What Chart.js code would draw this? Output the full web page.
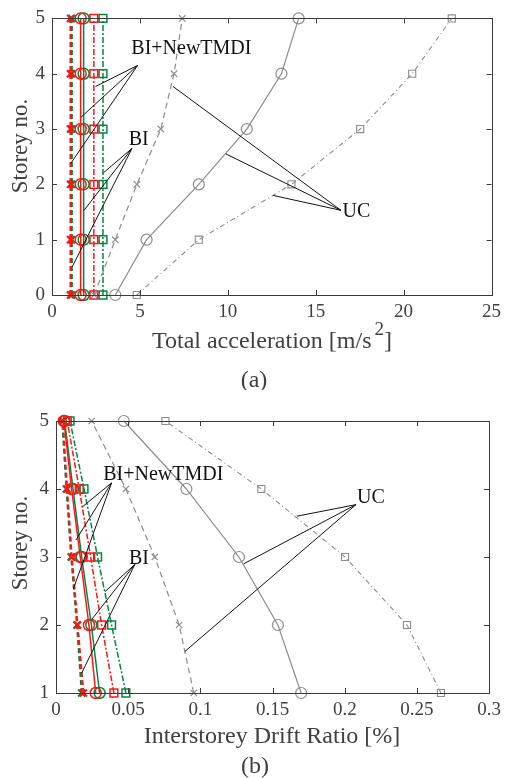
<!DOCTYPE html>
<html><head><meta charset="utf-8">
<script src="https://cdn.jsdelivr.net/npm/chart.js@4"></script>
<style>
body{margin:0;background:#fff;width:507px;height:778px;overflow:hidden;position:relative}
canvas{position:absolute;left:0}
#ca{top:0}
#cb{top:390px}
</style></head><body>
<canvas id="ca" width="507" height="390"></canvas>
<canvas id="cb" width="507" height="388"></canvas>
<script>
// ---------- categories / ticks ----------
const storeysA = [0, 1, 2, 3, 4, 5];
const storeysB = [1, 2, 3, 4, 5];
const accTicks = [0, 5, 10, 15, 20, 25];
const accStoreyTicks = [0, 1, 2, 3, 4, 5];
const driftTicks = [0, 0.05, 0.1, 0.15, 0.2, 0.25, 0.3];
const driftStoreyTicks = [1, 2, 3, 4, 5];

// ---------- (a) total acceleration [m/s^2], storeys 0..5 ----------
const acc_UC_x   = [2.40, 3.60, 4.83, 6.19, 6.94, 7.41];
const acc_UC_o   = [3.60, 5.38, 8.35, 11.08, 13.05, 14.03];
const acc_UC_s   = [4.82, 8.35, 13.62, 17.53, 20.49, 22.74];
const acc_BI_x   = [1.05, 1.05, 1.05, 1.05, 1.05, 1.05];
const acc_BI_o   = [1.63, 1.63, 1.63, 1.63, 1.63, 1.63];
const acc_BI_s   = [2.38, 2.38, 2.38, 2.38, 2.38, 2.38];
const acc_TM_x   = [1.13, 1.13, 1.13, 1.13, 1.13, 1.13];
const acc_TM_o   = [1.80, 1.80, 1.80, 1.80, 1.80, 1.80];
const acc_TM_s   = [2.90, 2.90, 2.90, 2.90, 2.90, 2.90];

// ---------- (b) interstorey drift ratio [%], storeys 1..5 ----------
const dr_UC_x = [0.0954, 0.0853, 0.0684, 0.0484, 0.0247];
const dr_UC_o = [0.1698, 0.1537, 0.1267, 0.0903, 0.0470];
const dr_UC_s = [0.2666, 0.2431, 0.2002, 0.1422, 0.0758];
const dr_BI_x = [0.0190, 0.0150, 0.0110, 0.0077, 0.0048];
const dr_BI_o = [0.0275, 0.0228, 0.0168, 0.0108, 0.0055];
const dr_BI_s = [0.0401, 0.0316, 0.0240, 0.0161, 0.0078];
const dr_TM_x = [0.0178, 0.0145, 0.0105, 0.0072, 0.0043];
const dr_TM_o = [0.0302, 0.0245, 0.0178, 0.0118, 0.0060];
const dr_TM_s = [0.0484, 0.0385, 0.0288, 0.0194, 0.0097];

// ---------- styling ----------
const SERIF = '"Liberation Serif", "Times New Roman", serif';
const GREY = 'rgb(140,140,140)';
const RED = 'rgb(255,20,20)';
const GREEN = 'rgb(0,135,65)';
const AXC = '#3a3a3a';

function ser(xs, ys, color, style, dash, width, r) {
  return {
    data: xs.map((v, i) => ({ x: v, y: ys[i] })),
    borderColor: color, backgroundColor: 'rgba(0,0,0,0)',
    pointStyle: style, pointRadius: r, pointHoverRadius: r,
    pointBorderColor: color, pointBackgroundColor: 'rgba(0,0,0,0)',
    pointBorderWidth: width, borderDash: dash, borderWidth: width,
    showLine: true, clip: false, tension: 0
  };
}

function sets(ys, ux, uo, us, bx, bo, bs, tx, to, ts) {
  return [
    ser(ux, ys, GREY, 'crossRot', [6, 4], 1.2, 4.5),
    ser(uo, ys, GREY, 'circle', [], 1.2, 5.5),
    ser(us, ys, GREY, 'rect', [5, 3, 1, 3], 1.1, 5),
    ser(bx, ys, RED, 'crossRot', [5, 3], 2, 5),
    ser(bo, ys, RED, 'circle', [], 1.5, 5.5),
    ser(bs, ys, RED, 'rect', [6, 2, 2, 2], 1.5, 5.5),
    ser(tx, ys, GREEN, 'crossRot', [5, 3], 2, 5),
    ser(to, ys, GREEN, 'circle', [], 1.5, 5.5),
    ser(ts, ys, GREEN, 'rect', [6, 2, 2, 2], 1.5, 5.5)
  ];
}

const framePlugin = {
  id: 'frame',
  afterDatasetsDraw(chart, args, o) {
    const ctx = chart.ctx, a = chart.chartArea;
    const xs = chart.scales.x, ys = chart.scales.y;
    ctx.save();
    // annotation leader lines
    ctx.strokeStyle = '#111'; ctx.lineWidth = 1;
    o.notes.forEach(n => {
      const ax = xs.getPixelForValue(n.anchor[0]), ay = ys.getPixelForValue(n.anchor[1]);
      n.ends.forEach(e => {
        ctx.beginPath(); ctx.moveTo(ax, ay);
        ctx.lineTo(xs.getPixelForValue(e[0]), ys.getPixelForValue(e[1])); ctx.stroke();
      });
      ctx.fillStyle = '#111'; ctx.font = '20px ' + SERIF;
      ctx.textAlign = 'left'; ctx.textBaseline = 'middle';
      ctx.fillText(n.text, xs.getPixelForValue(n.pos[0]), ys.getPixelForValue(n.pos[1]));
    });
    // box + inward ticks
    ctx.strokeStyle = AXC; ctx.lineWidth = 1;
    ctx.strokeRect(Math.round(a.left) + 0.5, Math.round(a.top) + 0.5,
      Math.round(a.right - a.left), Math.round(a.bottom - a.top));
    ctx.beginPath();
    xs.ticks.forEach(t => {
      if (t.value <= xs.min || t.value >= xs.max) return;
      const p = Math.round(xs.getPixelForValue(t.value)) + 0.5;
      ctx.moveTo(p, a.bottom); ctx.lineTo(p, a.bottom - 5);
      ctx.moveTo(p, a.top); ctx.lineTo(p, a.top + 5);
    });
    ys.ticks.forEach(t => {
      if (t.value <= ys.min || t.value >= ys.max) return;
      const p = Math.round(ys.getPixelForValue(t.value)) + 0.5;
      ctx.moveTo(a.left, p); ctx.lineTo(a.left + 5, p);
      ctx.moveTo(a.right, p); ctx.lineTo(a.right - 5, p);
    });
    ctx.stroke();
    // titles
    ctx.fillStyle = '#404040';
    ctx.textBaseline = 'middle';
    ctx.save();
    ctx.translate(o.yTitle.x, o.yTitle.y); ctx.rotate(-Math.PI / 2);
    ctx.font = '23px ' + SERIF; ctx.textAlign = 'center';
    ctx.fillText('Storey no.', 0, 0);
    ctx.restore();
    ctx.font = '24px ' + SERIF;
    if (o.sup) {
      const main = o.xTitle.text, sup = '2', end = ']';
      const wm = ctx.measureText(main).width;
      ctx.font = '19px ' + SERIF; const ws = ctx.measureText(sup).width;
      ctx.font = '24px ' + SERIF; const we = ctx.measureText(end).width;
      const total = wm + 3 + ws + we;
      let x0 = o.xTitle.x - total / 2;
      ctx.textAlign = 'left';
      ctx.fillText(main, x0, o.xTitle.y);
      ctx.font = '19px ' + SERIF;
      ctx.fillText(sup, x0 + wm + 3, o.xTitle.y - 12);
      ctx.font = '24px ' + SERIF;
      ctx.fillText(end, x0 + wm + 3 + ws, o.xTitle.y);
    } else {
      ctx.textAlign = 'center';
      ctx.fillText(o.xTitle.text, o.xTitle.x, o.xTitle.y);
    }
    ctx.textAlign = 'center';
    ctx.font = '24px ' + SERIF;
    ctx.fillText(o.label.text, o.label.x, o.label.y);
    ctx.restore();
  }
};

const fmt = v => String(+Number(v).toFixed(4));

function makeChart(id, datasets, xr, yr, xTicks, yTicks, yw, xh, pad, frame) {
  return new Chart(document.getElementById(id), {
    type: 'scatter',
    data: { datasets },
    options: {
      responsive: false, animation: false, devicePixelRatio: 1,
      events: [],
      layout: { padding: pad },
      plugins: { legend: { display: false }, tooltip: { enabled: false }, frame },
      scales: {
        x: {
          type: 'linear', min: xr[0], max: xr[1],
          afterBuildTicks: s => { s.ticks = xTicks.map(v => ({ value: v })); },
          afterFit: s => { s.height = xh; },
          grid: { display: false, drawTicks: false },
          border: { display: false },
          ticks: { color: '#404040', font: { family: SERIF, size: 19 }, padding: 6, maxRotation: 0, autoSkip: false, callback: fmt }
        },
        y: {
          type: 'linear', min: yr[0], max: yr[1],
          afterBuildTicks: s => { s.ticks = yTicks.map(v => ({ value: v })); },
          afterFit: s => { s.width = yw; },
          grid: { display: false, drawTicks: false },
          border: { display: false },
          ticks: { color: '#404040', font: { family: SERIF, size: 19 }, padding: 7, autoSkip: false, callback: fmt }
        }
      }
    },
    plugins: [framePlugin]
  });
}

makeChart('ca',
  sets(storeysA, acc_UC_x, acc_UC_o, acc_UC_s, acc_BI_x, acc_BI_o, acc_BI_s, acc_TM_x, acc_TM_o, acc_TM_s),
  [0, 25], [0, 5], accTicks, accStoreyTicks, 52, 95,
  { left: 0, right: 12, top: 18, bottom: 0 },
  {
    sup: true,
    xTitle: { text: 'Total acceleration [m/s', x: 272, y: 342 },
    yTitle: { x: 21, y: 146 },
    label: { text: '(a)', x: 254, y: 381 },
    notes: [
      { text: 'BI+NewTMDI', pos: [4.51, 4.46], anchor: [4.87, 4.15], ends: [[2.48, 3.77], [1.64, 3.21], [1.07, 2.38]] },
      { text: 'BI', pos: [4.36, 2.80], anchor: [4.55, 2.65], ends: [[2.93, 2.21], [1.82, 1.53], [1.15, 0.51]] },
      { text: 'UC', pos: [16.53, 1.50], anchor: [16.44, 1.53], ends: [[6.88, 3.77], [9.89, 2.55], [12.58, 1.80]] }
    ]
  });

makeChart('cb',
  sets(storeysB, dr_UC_x, dr_UC_o, dr_UC_s, dr_BI_x, dr_BI_o, dr_BI_s, dr_TM_x, dr_TM_o, dr_TM_s),
  [0, 0.3], [1, 5], driftTicks, driftStoreyTicks, 56, 85,
  { left: 0, right: 17, top: 31, bottom: 0 },
  {
    sup: false,
    xTitle: { text: 'Interstorey Drift Ratio [%]', x: 272, y: 347 },
    yTitle: { x: 21, y: 153 },
    label: { text: '(b)', x: 255, y: 377 },
    notes: [
      { text: 'BI+NewTMDI', pos: [0.0327, 4.21], anchor: [0.0385, 4.09], ends: [[0.0184, 3.74], [0.0138, 3.25], [0.0120, 2.53]] },
      { text: 'BI', pos: [0.0505, 2.97], anchor: [0.0546, 2.89], ends: [[0.0339, 2.49], [0.0247, 2.08], [0.0177, 1.29]] },
      { text: 'UC', pos: [0.2085, 3.87], anchor: [0.2078, 3.77], ends: [[0.1668, 3.60], [0.1300, 2.90], [0.0892, 1.61]] }
    ]
  });
</script>
</body></html>
